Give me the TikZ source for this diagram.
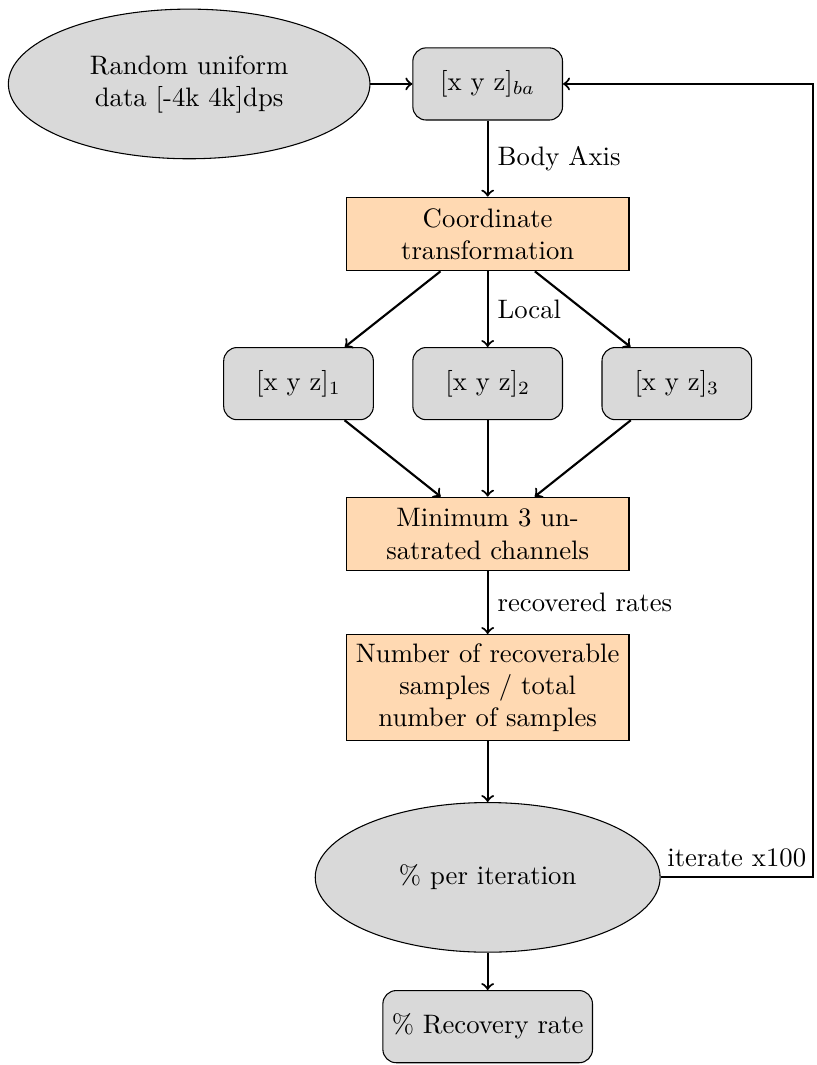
\documentclass[tikz,border=0pt]{standalone}
\usepackage{amsmath}
\usepackage{amssymb}
\usepackage{tikz}
\usetikzlibrary{shapes.geometric}
\usepackage{xcolor}

\begin{document}
\begin{tikzpicture}[
  roundbox/.style={draw, rounded corners=5pt, fill=gray!30, minimum width=1.97cm, minimum height=0.95cm},
  procbox/.style={draw, fill=orange!30, align=center, minimum width=3.72cm},
  oval/.style={draw, ellipse, fill=gray!30, align=center},
  flow/.style={->, thick}]
\useasboundingbox (0,0) rectangle (10.75,-14.02);

  \node [oval, minimum width=4.76cm, minimum height=1.97cm] (rand) at (2.49,-1.105) {Random uniform\\data [-4k 4k]dps};
  \node [roundbox] (xyzba) at (6.42,-1.105) {[x y z]$_{ba}$};
  \draw[flow] (rand) -- (xyzba);

  \node [procbox, minimum height=0.97cm] (coord) at (6.42,-3.08) {Coordinate\\transformation};
  \draw[flow] (xyzba) -- node[right] {Body Axis} (coord);

  \node [roundbox] (xyz1) at (3.93,-5.05) {[x y z]$_1$};
  \node [roundbox] (xyz2) at (6.42,-5.05) {[x y z]$_2$};
  \node [roundbox] (xyz3) at (8.91,-5.05) {[x y z]$_3$};
  \draw[flow] (coord) -- (xyz1);
  \draw[flow] (coord) -- node[right] {Local} (xyz2);
  \draw[flow] (coord) -- (xyz3);

  \node [procbox, minimum height=0.97cm] (minch) at (6.42,-7.03) {Minimum 3 un-\\satrated channels};
  \draw[flow] (xyz1) -- (minch);
  \draw[flow] (xyz2) -- (minch);
  \draw[flow] (xyz3) -- (minch);

  \node [procbox, minimum height=1.38cm] (ratio) at (6.42,-9.05) {Number of recoverable\\samples / total\\number of samples};
  \draw[flow] (minch) -- node[right] {recovered rates} (ratio);

  \node [oval, minimum width=4.54cm, minimum height=1.97cm] (perit) at (6.42,-11.55) {\% per iteration};
  \draw[flow] (ratio) -- (perit);

  \node [roundbox, minimum width=2.72cm] (recov) at (6.42,-13.515) {\% Recovery rate};
  \draw[flow] (perit) -- (recov);

% loop back
  \coordinate (back) at (10.70,-11.55);
  \draw[flow] (perit.east) -- node[above] {iterate x100} (back) |- (xyzba);
\end{tikzpicture}
\end{document}
